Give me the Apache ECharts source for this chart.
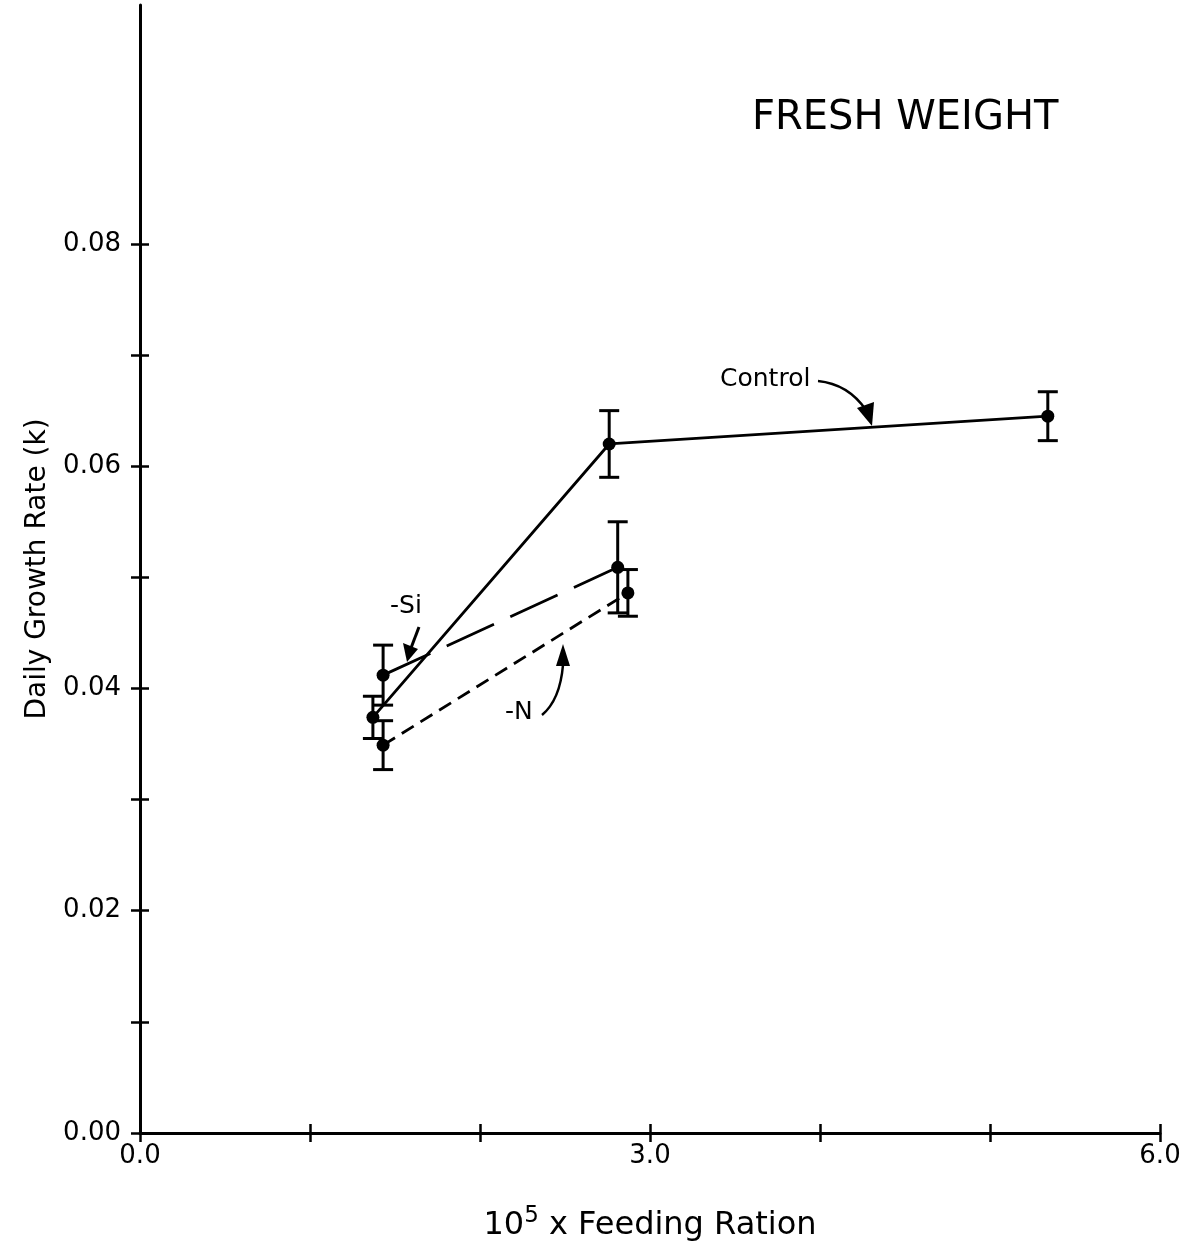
<!DOCTYPE html>
<html>
<head>
<meta charset="utf-8">
<script src="https://cdn.jsdelivr.net/npm/echarts@6/dist/echarts.min.js"></script>
<style>html,body{margin:0;padding:0;background:#fff;}#c{width:1198px;height:1251px;}</style>
</head>
<body>
<div id="c"></div>
<script>
const feedControl = [1.37, 2.76, 5.34];
const rateControl = [0.0374, 0.0620, 0.0645];
const errControl  = [0.0019, 0.0030, 0.0022];

const feedSi = [1.43, 2.81];
const rateSi = [0.0412, 0.0509];
const errSi  = [0.0027, 0.0041];

const feedN = [1.43, 2.87];
const rateN = [0.0349, 0.0486];
const errN  = [0.0022, 0.0021];

const xTicks = [0, 1, 2, 3, 4, 5, 6];
const xLabels = [0, 3, 6];
const yTicks = [0, 0.01, 0.02, 0.03, 0.04, 0.05, 0.06, 0.07, 0.08];
const yLabels = [0, 0.02, 0.04, 0.06, 0.08];

const FONT = 'DejaVu Sans';
const chart = echarts.init(document.getElementById('c'));

function pts(xs, ys) { return xs.map((x, i) => [x, ys[i]]); }
function errData(xs, ys, es) { return xs.map((x, i) => [x, ys[i] - es[i], ys[i] + es[i]]); }

function errSeries(xs, ys, es) {
  return {
    type: 'custom',
    data: errData(xs, ys, es),
    z: 3,
    renderItem: function (params, api) {
      const lo = api.coord([api.value(0), api.value(1)]);
      const hi = api.coord([api.value(0), api.value(2)]);
      const w = 10;
      const st = { stroke: '#000', lineWidth: 3 };
      return {
        type: 'group',
        children: [
          { type: 'line', shape: { x1: lo[0], y1: lo[1], x2: hi[0], y2: hi[1] }, style: st },
          { type: 'line', shape: { x1: lo[0] - w, y1: lo[1], x2: lo[0] + w, y2: lo[1] }, style: st },
          { type: 'line', shape: { x1: hi[0] - w, y1: hi[1], x2: hi[0] + w, y2: hi[1] }, style: st }
        ]
      };
    }
  };
}

function lineSeries(name, xs, ys, type) {
  return {
    name: name,
    type: 'line',
    data: pts(xs, ys),
    symbol: 'circle',
    symbolSize: 13,
    itemStyle: { color: '#000' },
    lineStyle: { color: '#000', width: 2.8, type: type },
    z: 4,
    animation: false
  };
}

const yCommon = {
  type: 'value', min: 0, max: 0.1015,
  splitLine: { show: false }
};
const xCommon = {
  type: 'value', min: 0, max: 6,
  splitLine: { show: false }
};

const option = {
  animation: false,
  backgroundColor: '#fff',
  grid: { left: 140, right: 38, top: 5, bottom: 118 },
  xAxis: [
    Object.assign({}, xCommon, {
      name: '{n|10}{s|5}{n| x Feeding Ration}',
      nameLocation: 'middle',
      nameGap: 72,
      nameTextStyle: {
        rich: {
          n: { fontFamily: FONT, fontSize: 32, color: '#000' },
          s: { fontFamily: FONT, fontSize: 23, color: '#000', verticalAlign: 'top', padding: [0, 0, 18, 0] }
        }
      },
      axisLine: { show: true, onZero: false, lineStyle: { color: '#000', width: 3 } },
      axisTick: { show: true, length: 9, customValues: xTicks, lineStyle: { color: '#000', width: 2.5 } },
      axisLabel: { show: true, customValues: xLabels, margin: 10, color: '#000', fontFamily: FONT, fontSize: 26,
        formatter: v => v.toFixed(1) }
    }),
    Object.assign({}, xCommon, {
      position: 'bottom',
      axisLine: { show: false },
      axisTick: { show: true, inside: true, length: 9, customValues: xTicks, lineStyle: { color: '#000', width: 2.5 } },
      axisLabel: { show: false }
    })
  ],
  yAxis: [
    Object.assign({}, yCommon, {
      name: 'Daily Growth Rate (k)',
      nameLocation: 'middle',
      nameGap: 88,
      nameTextStyle: { fontFamily: FONT, fontSize: 28, color: '#000' },
      axisLine: { show: true, onZero: false, lineStyle: { color: '#000', width: 3 } },
      axisTick: { show: true, length: 9, customValues: yTicks, lineStyle: { color: '#000', width: 2.5 } },
      axisLabel: { show: true, customValues: yLabels, margin: 19, color: '#000', fontFamily: FONT, fontSize: 26,
        formatter: v => v.toFixed(2) }
    }),
    Object.assign({}, yCommon, {
      position: 'left',
      axisLine: { show: false },
      axisTick: { show: true, inside: true, length: 9, customValues: yTicks, lineStyle: { color: '#000', width: 2.5 } },
      axisLabel: { show: false }
    })
  ],
  series: [
    lineSeries('Control', feedControl, rateControl, 'solid'),
    lineSeries('-Si', feedSi, rateSi, [52, 18]),
    lineSeries('-N', feedN, rateN, [14, 8]),
    errSeries(feedControl, rateControl, errControl),
    errSeries(feedSi, rateSi, errSi),
    errSeries(feedN, rateN, errN)
  ],
  graphic: [
    { type: 'text', left: 752, top: 99, style: { text: 'FRESH WEIGHT', font: '40px "' + FONT + '"', fill: '#000' } },
    { type: 'text', left: 720, top: 367, style: { text: 'Control', font: '25px "' + FONT + '"', fill: '#000' } },
    { type: 'text', left: 390, top: 594, style: { text: '-Si', font: '25px "' + FONT + '"', fill: '#000' } },
    { type: 'text', left: 505, top: 700, style: { text: '-N', font: '25px "' + FONT + '"', fill: '#000' } },
    // Control arrow
    { type: 'bezierCurve', shape: { x1: 818, y1: 381, cpx1: 848, cpy1: 384, x2: 866, y2: 410 },
      style: { stroke: '#000', lineWidth: 2.5, fill: null } },
    { type: 'polygon', shape: { points: [[857, 408], [874, 402], [872, 426]] }, style: { fill: '#000' } },
    // -Si arrow
    { type: 'line', shape: { x1: 419, y1: 627, x2: 411, y2: 648 }, style: { stroke: '#000', lineWidth: 3 } },
    { type: 'polygon', shape: { points: [[403, 643], [418, 649], [407, 662]] }, style: { fill: '#000' } },
    // -N arrow
    { type: 'bezierCurve', shape: { x1: 542, y1: 715, cpx1: 560, cpy1: 700, x2: 563, y2: 665 },
      style: { stroke: '#000', lineWidth: 2.5, fill: null } },
    { type: 'polygon', shape: { points: [[556, 666], [570, 666], [563, 644]] }, style: { fill: '#000' } }
  ]
};
chart.setOption(option);
</script>
</body>
</html>
